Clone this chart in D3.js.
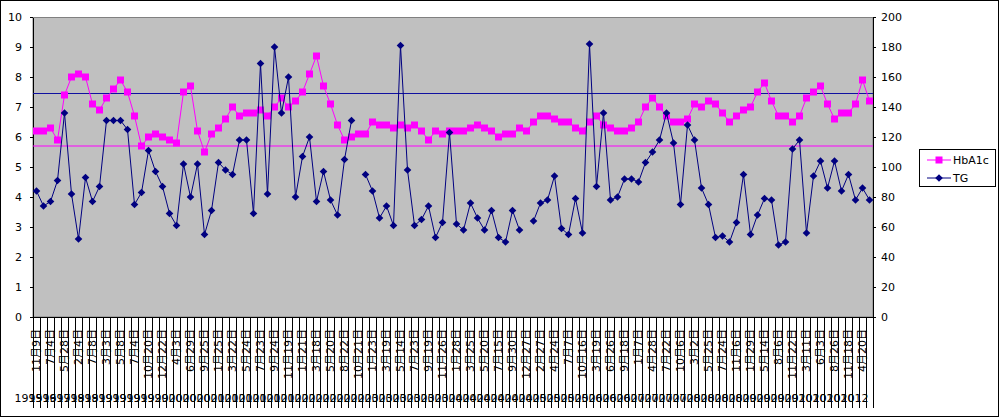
<!DOCTYPE html>
<html><head><meta charset="utf-8">
<script src="https://cdn.jsdelivr.net/npm/d3@7"></script>
<style>body{margin:0;background:#fff}svg{display:block}</style>
</head><body><svg id="c" width="1000" height="418"></svg>
<script>
// ---- data ----
const dateLabels = ["11月9日","7月4日","5月28日","2月4日","7月8日","3月3日","5月8日","7月4日","10月20日","12月22日",
  "4月3日","6月29日","9月25日","1月25日","3月22日","5月24日","7月23日","9月24日","11月19日","1月21日",
  "3月18日","5月20日","8月22日","10月21日","1月23日","3月19日","5月14日","7月23日","9月19日","11月26日",
  "1月28日","3月25日","5月20日","7月15日","9月30日","12月27日","2月27日","4月24日","7月7日","10月16日",
  "3月19日","6月26日","9月18日","1月7日","4月28日","7月22日","10月6日","3月2日","5月25日","7月24日",
  "11月6日","1月29日","5月14日","8月6日","11月22日","3月11日","6月3日","8月26日","11月18日","4月20日"];
const labelYears = ["1995","1996","1997","1998","1998","1999","1999","1999","1999","1999",
  "2000","2000","2000","2001","2001","2001","2001","2001","2001","2002",
  "2002","2002","2002","2002","2003","2003","2003","2003","2003","2003",
  "2004","2004","2004","2004","2004","2004","2005","2005","2005","2005",
  "2006","2006","2006","2007","2007","2007","2007","2008","2008","2008",
  "2008","2009","2009","2009","2009","2010","2010","2010","2010","2012"];
const hba1c = [6.2,6.2,6.3,5.9,7.4,8.0,8.1,8.0,7.1,6.9,7.3,7.6,7.9,7.5,6.7,5.7,6.0,6.1,6.0,5.9,
  5.8,7.5,7.7,6.2,5.5,6.1,6.3,6.6,7.0,6.7,6.8,6.8,6.9,6.7,7.0,7.3,7.0,7.2,7.5,8.1,
  8.7,7.7,7.1,6.4,5.9,6.0,6.1,6.1,6.5,6.4,6.4,6.3,6.4,6.3,6.4,6.2,5.9,6.2,6.1,6.2,
  6.2,6.2,6.3,6.4,6.3,6.2,6.0,6.1,6.1,6.3,6.2,6.5,6.7,6.7,6.6,6.5,6.5,6.3,6.2,6.5,
  6.7,6.4,6.3,6.2,6.2,6.3,6.5,7.0,7.3,7.0,6.7,6.5,6.5,6.6,7.1,7.0,7.2,7.1,6.8,6.5,
  6.7,6.9,7.0,7.5,7.8,7.2,6.7,6.7,6.5,6.7,7.3,7.5,7.7,7.1,6.6,6.8,6.8,7.1,7.9,7.2];
const tg = [84,74,77,91,136,82,52,93,77,87,131,131,131,125,75,83,111,97,87,69,
  61,102,80,102,55,71,103,98,95,118,118,69,169,82,180,136,160,80,107,120,
  77,97,78,68,105,131,null,95,84,66,74,61,181,98,61,65,74,53,63,123,
  62,58,76,66,58,71,53,50,71,58,null,64,76,78,94,59,55,79,56,182,
  87,136,78,80,92,92,90,103,110,118,136,116,75,128,118,86,75,53,54,50,
  63,95,55,68,79,78,48,50,112,118,56,94,104,86,104,84,95,78,86,78];
const leftTicks = [0,1,2,3,4,5,6,7,8,9,10];
const rightTicks = [0,20,40,60,80,100,120,140,160,180,200];
const refHbA1c = 5.7;
const refTG = 149;
const seriesNames = ["HbA1c","TG"];

// ---- drawing ----
const svg = d3.select("#c");
const FONT = "'DejaVu Sans','Noto Sans CJK JP',sans-serif";
const m = {l:33, r:873, t:17, b:317};
svg.append("rect").attr("x",0.5).attr("y",0.5).attr("width",998).attr("height",416)
  .attr("fill","#fff").attr("stroke","#000");

const n = hba1c.length;
const x = d3.scaleBand().domain(d3.range(n)).range([m.l, m.r]);
const cx = i => x(i) + x.bandwidth()/2;
const yL = d3.scaleLinear().domain([0,10]).range([m.b, m.t]);
const yR = d3.scaleLinear().domain([0,200]).range([m.b, m.t]);

svg.append("rect").attr("x",m.l).attr("y",m.t+0.5).attr("width",m.r-m.l).attr("height",m.b-m.t-0.5)
  .attr("fill","#c0c0c0").attr("stroke","#808080");

// axes
const ax = (g) => { g.attr("font-family",FONT).attr("font-size",11);
  g.selectAll("path,line").attr("stroke","#000").attr("shape-rendering","crispEdges");
  g.selectAll("text").attr("fill","#000"); };
svg.append("g").attr("transform",`translate(${m.l},0)`)
  .call(d3.axisLeft(yL).tickValues(leftTicks).tickSize(3).tickSizeOuter(0).tickPadding(8)).call(ax);
svg.append("g").attr("transform",`translate(${m.r},0)`)
  .call(d3.axisRight(yR).tickValues(rightTicks).tickSize(3).tickSizeOuter(0).tickPadding(5)).call(ax);

// category axis
const bounds = d3.range(n).map(i => x(i)).concat([x(n-1)+x.bandwidth()]);
const cat = svg.append("g").attr("font-family",FONT).attr("font-size",11);
cat.selectAll("line.b").data(bounds).join("line").attr("class","b")
  .attr("x1",d=>d).attr("x2",d=>d).attr("y1",m.b).attr("y2",408)
  .attr("stroke","#000").attr("shape-rendering","crispEdges");
cat.append("line").attr("x1",m.l).attr("x2",m.r).attr("y1",m.b).attr("y2",m.b)
  .attr("stroke","#000").attr("shape-rendering","crispEdges");
cat.selectAll("text.d").data(dateLabels).join("text").attr("class","d")
  .attr("transform",(d,j)=>`translate(${cx(2*j)},329) rotate(-90)`)
  .attr("text-anchor","end").attr("dy","0.36em").text(d=>d);
cat.selectAll("text.y").data(labelYears).join("text").attr("class","y")
  .attr("x",(d,j)=>cx(2*j)-8).attr("y",402).attr("text-anchor","middle")
  .text(d=>d);

// reference lines
svg.append("line").attr("x1",m.l).attr("x2",m.r).attr("y1",yR(refTG)).attr("y2",yR(refTG))
  .attr("stroke","#1010a0").attr("stroke-width",1);
svg.append("line").attr("x1",m.l).attr("x2",m.r).attr("y1",yL(refHbA1c)).attr("y2",yL(refHbA1c))
  .attr("stroke","#ff00ff").attr("stroke-width",1);

// HbA1c
svg.append("path").datum(hba1c).attr("fill","none").attr("stroke","#ff00ff").attr("stroke-width",1)
  .attr("d", d3.line().x((d,i)=>cx(i)).y(d=>yL(d)));
svg.selectAll("rect.h").data(hba1c).join("rect").attr("class","h")
  .attr("x",(d,i)=>cx(i)-3.5).attr("y",d=>yL(d)-3.5).attr("width",7).attr("height",7)
  .attr("fill","#ff00ff");

// TG
const diamond = "M0,-3.8L3.8,0L0,3.8L-3.8,0Z";
svg.append("path").datum(tg).attr("fill","none").attr("stroke","#000080").attr("stroke-width",1)
  .attr("d", d3.line().defined(d=>d!=null).x((d,i)=>cx(i)).y(d=>yR(d)));
svg.selectAll("path.t").data(tg.map((v,i)=>({v,i})).filter(d=>d.v!=null)).join("path").attr("class","t")
  .attr("transform",d=>`translate(${cx(d.i)},${yR(d.v)})`).attr("d",diamond).attr("fill","#000080");

// legend
const lg = svg.append("g").attr("font-family",FONT).attr("font-size",11);
lg.append("rect").attr("x",919.5).attr("y",149.5).attr("width",76).attr("height",37)
  .attr("fill","#fff").attr("stroke","#000");
const ly = [160, 178];
lg.append("line").attr("x1",927).attr("x2",951).attr("y1",ly[0]).attr("y2",ly[0]).attr("stroke","#ff00ff");
lg.append("rect").attr("x",935.5).attr("y",ly[0]-3.5).attr("width",7).attr("height",7).attr("fill","#ff00ff");
lg.append("line").attr("x1",927).attr("x2",951).attr("y1",ly[1]).attr("y2",ly[1]).attr("stroke","#000080");
lg.append("path").attr("transform",`translate(939,${ly[1]})`).attr("d",diamond).attr("fill","#000080");
lg.selectAll("text").data(seriesNames).join("text").attr("x",953).attr("y",(d,i)=>ly[i])
  .attr("dy","0.36em").text(d=>d);
</script></body></html>
